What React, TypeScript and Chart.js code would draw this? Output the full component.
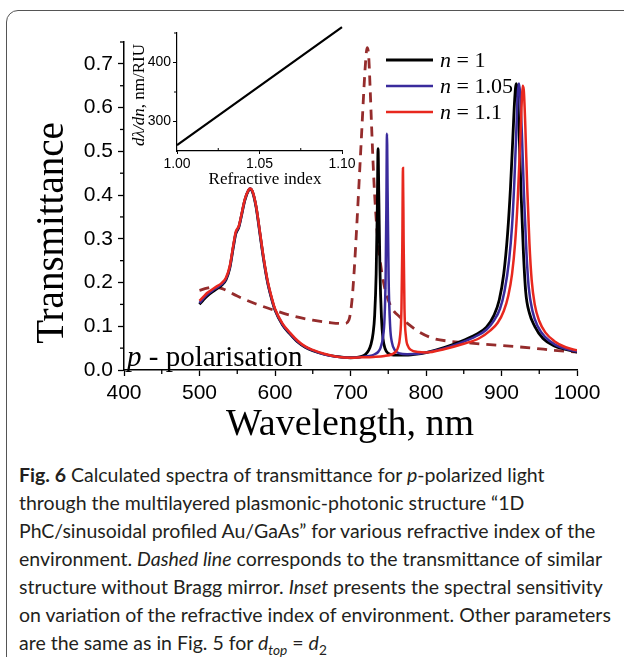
import React, { useEffect, useRef } from "react";
import { Chart, registerables } from "chart.js";
Chart.register(...registerables);

const SERIF = '"Liberation Serif", "Times New Roman", serif';
const SANS = '"Liberation Sans", Arial, sans-serif';

// ---- Data ----
const legendLabels = ["n = 1", "n = 1.05", "n = 1.1"];
const yTitle = "Transmittance";
const xTitle = "Wavelength, nm";
const polLabel = ["p", " - polarisation"];
const xTickValues = [400, 500, 600, 700, 800, 900, 1000];
const yTickValues = [0, 0.1, 0.2, 0.3, 0.4, 0.5, 0.6, 0.7];

// n = 1 (black)
const seriesN100 = [
  [500, 0.150], [505, 0.160], [510, 0.169], [520, 0.182], [530, 0.195], [535, 0.206], [540, 0.232],
  [545, 0.283], [548, 0.311], [550, 0.319], [552, 0.326], [555, 0.348], [560, 0.388], [565, 0.411],
  [567, 0.414], [570, 0.408], [575, 0.372], [580, 0.312], [585, 0.252], [590, 0.202], [595, 0.166],
  [600, 0.137], [610, 0.103], [620, 0.082], [630, 0.064], [640, 0.052], [650, 0.044], [665, 0.036],
  [680, 0.031], [700, 0.028], [715, 0.031], [720, 0.036], [724, 0.045], [727, 0.058], [730, 0.085],
  [732, 0.125], [734, 0.22], [735.5, 0.37], [736.5, 0.506], [737.5, 0.40], [739, 0.23], [741, 0.12],
  [743, 0.072], [746, 0.048], [750, 0.038], [757, 0.034], [770, 0.034], [785, 0.036], [800, 0.040],
  [825, 0.052], [850, 0.068], [865, 0.080], [880, 0.098], [890, 0.125], [897, 0.160], [903, 0.220],
  [908, 0.310], [912, 0.420], [915, 0.530], [917.5, 0.620], [919.5, 0.655], [921, 0.640], [923, 0.560],
  [926, 0.400], [929, 0.270], [932, 0.180], [937, 0.130], [944, 0.100], [955, 0.072], [970, 0.055],
  [985, 0.047], [1000, 0.041],
];

// n = 1.05 (blue)
const seriesN105 = [
  [500, 0.153], [505, 0.163], [510, 0.172], [520, 0.185], [530, 0.197], [535, 0.208], [540, 0.234],
  [545, 0.285], [548, 0.313], [550, 0.321], [552, 0.327], [555, 0.349], [560, 0.389], [565, 0.412],
  [567, 0.415], [570, 0.409], [575, 0.373], [580, 0.313], [585, 0.253], [590, 0.203], [595, 0.167],
  [600, 0.138], [610, 0.104], [620, 0.083], [630, 0.065], [640, 0.053], [650, 0.045], [665, 0.036],
  [680, 0.031], [700, 0.028], [715, 0.030], [725, 0.032], [732, 0.036], [737, 0.042], [740, 0.052],
  [743, 0.075], [745, 0.115], [746.5, 0.21], [747.5, 0.37], [748.3, 0.54], [749.2, 0.40], [750.5, 0.21],
  [752.5, 0.10], [755, 0.062], [759, 0.045], [765, 0.038], [775, 0.036], [790, 0.037], [800, 0.040],
  [825, 0.050], [850, 0.065], [865, 0.076], [880, 0.092], [890, 0.113], [898, 0.140], [904, 0.180],
  [910, 0.250], [914, 0.330], [917, 0.430], [919.5, 0.540], [921.5, 0.630], [923, 0.655], [924.5, 0.635],
  [927, 0.540], [930, 0.390], [933, 0.270], [936, 0.190], [941, 0.135], [948, 0.100], [958, 0.075],
  [972, 0.057], [986, 0.048], [1000, 0.042],
];

// n = 1.1 (red)
const seriesN110 = [
  [500, 0.158], [505, 0.167], [510, 0.176], [520, 0.188], [530, 0.200], [535, 0.211], [540, 0.237],
  [545, 0.288], [548, 0.316], [550, 0.323], [552, 0.329], [555, 0.351], [560, 0.390], [565, 0.412],
  [567, 0.415], [570, 0.410], [575, 0.375], [580, 0.316], [585, 0.256], [590, 0.206], [595, 0.170],
  [600, 0.140], [610, 0.106], [620, 0.085], [630, 0.067], [640, 0.054], [650, 0.046], [665, 0.037],
  [680, 0.031], [700, 0.028], [715, 0.029], [730, 0.030], [745, 0.032], [755, 0.036], [760, 0.042],
  [763, 0.052], [765.5, 0.075], [767.5, 0.14], [768.6, 0.28], [769.5, 0.462], [770.4, 0.29], [771.5, 0.14],
  [773.5, 0.075], [776, 0.055], [780, 0.046], [790, 0.041], [800, 0.040], [825, 0.048], [850, 0.060],
  [870, 0.072], [885, 0.090], [895, 0.108], [903, 0.135], [909, 0.170], [914, 0.220], [918, 0.290],
  [921.5, 0.390], [924.5, 0.510], [926.5, 0.600], [928, 0.650], [929.5, 0.640], [931.5, 0.560], [934, 0.420],
  [937, 0.290], [940, 0.205], [944, 0.150], [950, 0.112], [958, 0.086], [970, 0.066], [985, 0.052],
  [1000, 0.045],
];

// structure without Bragg mirror (dashed)
const seriesNoBragg = [
  [500, 0.182], [510, 0.187], [520, 0.190], [530, 0.186], [550, 0.169], [575, 0.151], [600, 0.136],
  [625, 0.123], [650, 0.114], [675, 0.108], [692, 0.106], [698, 0.115], [702, 0.160], [705, 0.230],
  [708, 0.320], [712, 0.450], [715, 0.550], [718, 0.650], [720, 0.705], [722, 0.737], [724, 0.720],
  [726, 0.645], [728, 0.555], [730, 0.470], [732, 0.400], [736, 0.300], [740, 0.240], [745, 0.190],
  [750, 0.160], [756, 0.138], [765, 0.122], [775, 0.107], [790, 0.088], [810, 0.072], [830, 0.066],
  [850, 0.063], [876, 0.059], [900, 0.056], [942, 0.050], [970, 0.045], [1000, 0.041],
];

// inset: spectral sensitivity vs refractive index
const insetIndex = [1.0, 1.05, 1.1];
const insetSensitivity = [260, 360, 460];
const insetXTickValues = [1.0, 1.05, 1.1];
const insetYTickValues = [300, 400];
const insetXTitle = "Refractive index";
const insetYTitle = ["dλ/dn", ", nm/RIU"];

const toPts = (s: number[][]) => s.map(([x, y]) => ({ x, y }));

// ---- plugins ----
const minorTicksPlugin = {
  id: "minorTicks",
  afterDraw(chart: any, _args: any, opts: any) {
    const ctx = chart.ctx;
    ctx.save();
    ctx.strokeStyle = "#000";
    ctx.lineWidth = opts.width || 1.2;
    for (const key of ["x", "y"]) {
      const o = opts[key];
      if (!o) continue;
      const sc = chart.scales[key];
      for (let v = o.from; v <= o.to + 1e-9; v += o.step) {
        const p = sc.getPixelForValue(v);
        ctx.beginPath();
        if (key === "x") {
          const y0 = chart.chartArea.bottom;
          ctx.moveTo(p, y0);
          ctx.lineTo(p, y0 + o.len);
        } else {
          const x0 = chart.chartArea.left;
          ctx.moveTo(x0, p);
          ctx.lineTo(x0 - o.len, p);
        }
        ctx.stroke();
      }
    }
    ctx.restore();
  },
};

const drawRich = (ctx: any, parts: { t: string; f: string }[], x: number, y: number, align: string) => {
  let total = 0;
  for (const p of parts) {
    ctx.font = p.f;
    total += ctx.measureText(p.t).width;
  }
  let cx = align === "center" ? x - total / 2 : x;
  ctx.textAlign = "left";
  for (const p of parts) {
    ctx.font = p.f;
    ctx.fillText(p.t, cx, y);
    cx += ctx.measureText(p.t).width;
  }
};

const mainTextPlugin = {
  id: "mainText",
  afterDraw(chart: any) {
    const { ctx } = chart;
    ctx.save();
    ctx.fillStyle = "#000";
    ctx.textBaseline = "alphabetic";
    // y title
    ctx.save();
    ctx.translate(63, 233);
    ctx.rotate(-Math.PI / 2);
    drawRich(ctx, [{ t: yTitle, f: `39px ${SERIF}` }], 0, 0, "center");
    ctx.restore();
    // x title
    drawRich(ctx, [{ t: xTitle, f: `38px ${SERIF}` }], 350, 435, "center");
    // polarisation label
    drawRich(
      ctx,
      [
        { t: polLabel[0], f: `italic 29px ${SERIF}` },
        { t: polLabel[1], f: `29px ${SERIF}` },
      ],
      127,
      366,
      "left"
    );
    // legend
    const items = chart.data.datasets.filter((d: any) => d.inLegend);
    items.forEach((d: any, i: number) => {
      const y = 60 + i * 26;
      ctx.strokeStyle = d.borderColor;
      ctx.lineWidth = d.borderWidth;
      ctx.beginPath();
      ctx.moveTo(386, y);
      ctx.lineTo(433, y);
      ctx.stroke();
      ctx.textBaseline = "middle";
      drawRich(
        ctx,
        [
          { t: d.label.slice(0, 1), f: `italic 22px ${SERIF}` },
          { t: d.label.slice(1), f: `22px ${SERIF}` },
        ],
        440,
        y + 1,
        "left"
      );
    });
    ctx.restore();
  },
};

const insetTextPlugin = {
  id: "insetText",
  afterDraw(chart: any) {
    const { ctx } = chart;
    ctx.save();
    ctx.fillStyle = "#000";
    ctx.textBaseline = "alphabetic";
    drawRich(ctx, [{ t: insetXTitle, f: `17px ${SERIF}` }], 145, 169, "center");
    ctx.save();
    ctx.translate(24, 80);
    ctx.rotate(-Math.PI / 2);
    drawRich(
      ctx,
      [
        { t: insetYTitle[0], f: `italic 17px ${SERIF}` },
        { t: insetYTitle[1], f: `17px ${SERIF}` },
      ],
      0,
      0,
      "center"
    );
    ctx.restore();
    ctx.restore();
  },
};

const MainChart = () => {
  const ref = useRef<HTMLCanvasElement>(null);
  useEffect(() => {
    const chart = new Chart(ref.current as HTMLCanvasElement, {
      type: "line",
      data: {
        datasets: [
          { label: legendLabels[0], data: toPts(seriesN100), borderColor: "#000000", borderWidth: 2.8, inLegend: true, order: 3 } as any,
          { label: legendLabels[1], data: toPts(seriesN105), borderColor: "#3a2b9c", borderWidth: 2.5, inLegend: true, order: 2 } as any,
          { label: legendLabels[2], data: toPts(seriesN110), borderColor: "#e8281e", borderWidth: 2.5, inLegend: true, order: 1 } as any,
          { label: "no Bragg mirror", data: toPts(seriesNoBragg), borderColor: "#952c2c", borderWidth: 2.8, borderDash: [10, 7], inLegend: false, order: 4 } as any,
        ],
      },
      options: {
        animation: false,
        responsive: false,
        maintainAspectRatio: false,
        parsing: false as any,
        elements: {
          point: { radius: 0, hoverRadius: 0 },
          line: { cubicInterpolationMode: "monotone", fill: false, borderCapStyle: "butt" },
        },
        layout: { padding: { top: 42, right: 47, left: 0, bottom: 0 } },
        plugins: {
          legend: { display: false },
          tooltip: { enabled: false },
          minorTicks: {
            width: 1.3,
            x: { from: 450, to: 950, step: 100, len: 4 },
            y: { from: 0.05, to: 0.75, step: 0.1, len: 4 },
          },
        } as any,
        scales: {
          x: {
            type: "linear",
            min: 400,
            max: 1000,
            afterFit: (s: any) => { s.height = 75; },
            afterBuildTicks: (s: any) => { s.ticks = xTickValues.map((value) => ({ value })); },
            ticks: { color: "#000", font: { family: SANS, size: 21 }, padding: 5, maxRotation: 0, autoSkip: false, callback: (v: any) => String(v) },
            grid: { drawOnChartArea: false, drawTicks: true, tickLength: 6, tickColor: "#000", tickWidth: 1.3 },
            border: { display: true, color: "#000", width: 1.5 },
          },
          y: {
            type: "linear",
            min: 0,
            max: 0.75,
            afterFit: (s: any) => { s.width = 124; },
            afterBuildTicks: (s: any) => { s.ticks = yTickValues.map((value) => ({ value })); },
            ticks: { color: "#000", font: { family: SANS, size: 21 }, padding: 5, autoSkip: false, callback: (v: any) => Number(v).toFixed(1) },
            grid: { drawOnChartArea: false, drawTicks: true, tickLength: 6, tickColor: "#000", tickWidth: 1.3 },
            border: { display: true, color: "#000", width: 1.5 },
          },
        },
      },
      plugins: [minorTicksPlugin, mainTextPlugin],
    } as any);
    return () => chart.destroy();
  }, []);
  return <canvas ref={ref} width={624} height={445} style={{ position: "absolute", left: 0, top: 0, width: 624, height: 445 }} />;
};

const InsetChart = () => {
  const ref = useRef<HTMLCanvasElement>(null);
  useEffect(() => {
    const chart = new Chart(ref.current as HTMLCanvasElement, {
      type: "line",
      data: {
        datasets: [
          {
            label: "sensitivity",
            data: insetIndex.map((x, i) => ({ x, y: insetSensitivity[i] })),
            borderColor: "#000",
            borderWidth: 2.2,
            clip: false,
          } as any,
        ],
      },
      options: {
        animation: false,
        responsive: false,
        maintainAspectRatio: false,
        parsing: false as any,
        elements: { point: { radius: 0, hoverRadius: 0 }, line: { tension: 0 } },
        layout: { padding: { top: 18, right: 18, left: 0, bottom: 0 } },
        plugins: {
          legend: { display: false },
          tooltip: { enabled: false },
          minorTicks: {
            width: 1,
            x: { from: 1.025, to: 1.08, step: 0.05, len: -3 },
            y: { from: 350, to: 450, step: 100, len: 3 },
          },
        } as any,
        scales: {
          x: {
            type: "linear",
            min: 1.0,
            max: 1.1,
            afterFit: (s: any) => { s.height = 44; },
            afterBuildTicks: (s: any) => { s.ticks = insetXTickValues.map((value) => ({ value })); },
            ticks: { color: "#000", font: { family: SANS, size: 14 }, padding: 2, maxRotation: 0, autoSkip: false, callback: (v: any) => Number(v).toFixed(2) },
            grid: { drawOnChartArea: false, drawTicks: true, tickLength: 3, tickColor: "#000", tickWidth: 1 },
            border: { display: true, color: "#000", width: 1.2 },
          },
          y: {
            type: "linear",
            min: 250,
            max: 450,
            afterFit: (s: any) => { s.width = 57; },
            afterBuildTicks: (s: any) => { s.ticks = insetYTickValues.map((value) => ({ value })); },
            ticks: { color: "#000", font: { family: SANS, size: 14 }, padding: 2, autoSkip: false, callback: (v: any) => String(v) },
            grid: { drawOnChartArea: false, drawTicks: true, tickLength: 4, tickColor: "#000", tickWidth: 1 },
            border: { display: true, color: "#000", width: 1.2 },
          },
        },
      },
      plugins: [minorTicksPlugin, insetTextPlugin],
    } as any);
    return () => chart.destroy();
  }, []);
  return <canvas ref={ref} width={240} height={180} style={{ position: "absolute", left: 120, top: 15, width: 240, height: 180 }} />;
};

const captionFont = '"Lato", "Noto Sans", sans-serif';

export default function App() {
  return (
    <div style={{ position: "absolute", left: 0, top: 0, width: 624, height: 657, overflow: "hidden", background: "#fff" }}>
      <div
        style={{
          position: "absolute",
          left: 6,
          top: 10,
          width: 700,
          height: 700,
          border: "1.5px solid #555",
          borderRadius: 12,
          boxSizing: "border-box",
        }}
      />
      <MainChart />
      <InsetChart />
      <div
        style={{
          position: "absolute",
          left: 19,
          top: 461,
          fontFamily: captionFont,
          fontSize: 19.5,
          lineHeight: "28px",
          color: "#231f20",
          whiteSpace: "nowrap",
        }}
      >
        <div><b>Fig. 6</b> Calculated spectra of transmittance for <i>p</i>-polarized light</div>
        <div>through the multilayered plasmonic-photonic structure “1D</div>
        <div>PhC/sinusoidal profiled Au/GaAs” for various refractive index of the</div>
        <div>environment. <i>Dashed line</i> corresponds to the transmittance of similar</div>
        <div>structure without Bragg mirror. <i>Inset</i> presents the spectral sensitivity</div>
        <div>on variation of the refractive index of environment. Other parameters</div>
        <div>
          are the same as in Fig. 5 for <i>d</i>
          <sub style={{ fontSize: "0.7em", lineHeight: 0 }}><i>top</i></sub> = <i>d</i>
          <sub style={{ fontSize: "0.7em", lineHeight: 0 }}>2</sub>
        </div>
      </div>
    </div>
  );
}
